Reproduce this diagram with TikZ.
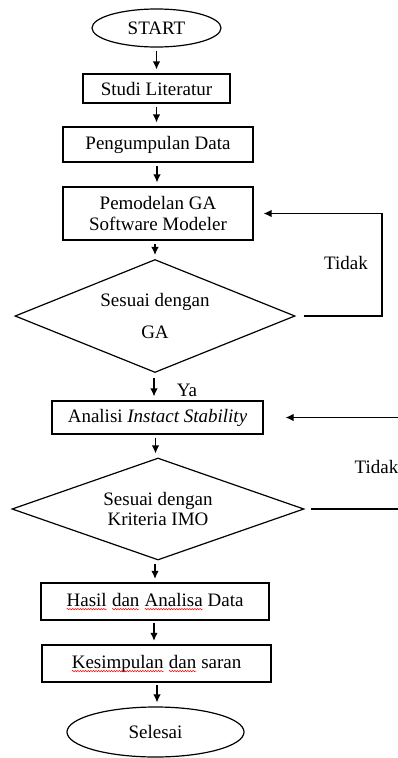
\documentclass[tikz,border=0pt]{standalone}
\usepackage{fontspec}
\setmainfont{Liberation Serif}
\usetikzlibrary{shapes.geometric,arrows.meta,calc,decorations.pathmorphing}
\newcommand\sq[1]{\tikz[baseline=(sqw.base),x=1pt,y=1pt]{\node[draw=none,shape=rectangle,minimum width=0pt,minimum height=0pt,inner sep=0pt,outer sep=0pt] (sqw) {#1};\draw[red,line width=0.5pt,decorate,decoration={snake,amplitude=0.7pt,segment length=2.6pt}] ([yshift=-3pt]sqw.base west) -- ([yshift=-3pt]sqw.base east);}}
\begin{document}
\begin{tikzpicture}[x=1pt,y=-1pt,
  font=\fontsize{19}{20.5}\selectfont,
  line width=1.2pt,
  box/.style={draw, rectangle, inner sep=0pt, align=center},
  term/.style={draw, ellipse, inner sep=0pt},
  dec/.style={draw, diamond, inner sep=0pt, align=center},
  arr/.style={-{Latex[length=8pt,width=7.5pt]}, shorten <=3pt, shorten >=4pt},
  loop/.style={-{Latex[length=8pt,width=7.5pt]}}]
\useasboundingbox (0,0) rectangle (398,758);

\node[term, minimum width=129pt, minimum height=38pt] (start) at (156.5,28) {START};
\node[box, minimum width=147pt, minimum height=29pt] (studi) at (156.5,88.5) {Studi Literatur};
\node[box, minimum width=190pt, minimum height=35pt] (data) at (158,144.5) {Pengumpulan Data};
\node[box, minimum width=190pt, minimum height=53pt] (model) at (158,213.5) {Pemodelan GA\\Software Modeler};
\node[dec, shape aspect=2.48, minimum width=280pt, minimum height=113pt] (d1) at (155,316) {Sesuai dengan\\[11pt]GA};
\node[box, minimum width=211pt, minimum height=33pt] (anal) at (157.5,417.5) {Analisi \textit{Instact Stability}};
\node[dec, shape aspect=2.86, minimum width=292pt, minimum height=102pt] (d2) at (158,509) {Sesuai dengan\\Kriteria IMO};
\node[box, minimum width=228pt, minimum height=37pt] (hasil) at (155,601.5) {\sq{Hasil} \sq{dan} \sq{Analisa} Data};
\node[box, minimum width=229pt, minimum height=37pt] (kes) at (156.5,663.5) {\sq{Kesimpulan} \sq{dan} saran};
\node[term, minimum width=177pt, minimum height=50pt] (sel) at (155.5,732) {Selesai};

\node (ya) at (187,390) {Ya};
\node (t1) at (346,263) {Tidak};
\node[anchor=west, inner sep=0pt] (t2) at (354,467) {Tidak};

\draw[arr] (start.south) -- (start.south |- studi.north);
\draw[arr] (studi.south) -- (studi.south |- data.north);
\draw[arr] ($(data.south)+(-1,0)$) -- ($(data.south |- model.north)+(-1,0)$);
\draw[arr] ($(model.south)+(-3,0)$) -- ($(model.south |- d1.north)+(-3,0)$);
\draw[arr] ($(d1.south)+(-1,2)$) -- ($(d1.south |- anal.north)+(-1,0)$);
\draw[arr] ($(anal.south)+(-2,0)$) -- ($(anal.south |- d2.north)+(-2,0)$);
\draw[arr] ($(d2.south)+(-3,0)$) -- ($(d2.south |- hasil.north)+(-3,0)$);
\draw[arr] ($(hasil.south)+(-1,0)$) -- ($(hasil.south |- kes.north)+(-1,0)$);
\draw[arr] ($(kes.south)+(0.5,0)$) -- ($(kes.south |- sel.north)+(0.5,0)$);

\coordinate (c1) at (382,313);
\draw[loop, shorten <=8pt, shorten >=10pt] (d1.east) -- (d1.east -| c1) -- (c1 |- model.east) -- (model.east);

\coordinate (c2) at (420,460);
\draw[loop, shorten <=6pt, shorten >=22pt] (d2.east) -- (d2.east -| c2) -- (c2 |- anal.east) -- (anal.east);
\end{tikzpicture}
\end{document}
